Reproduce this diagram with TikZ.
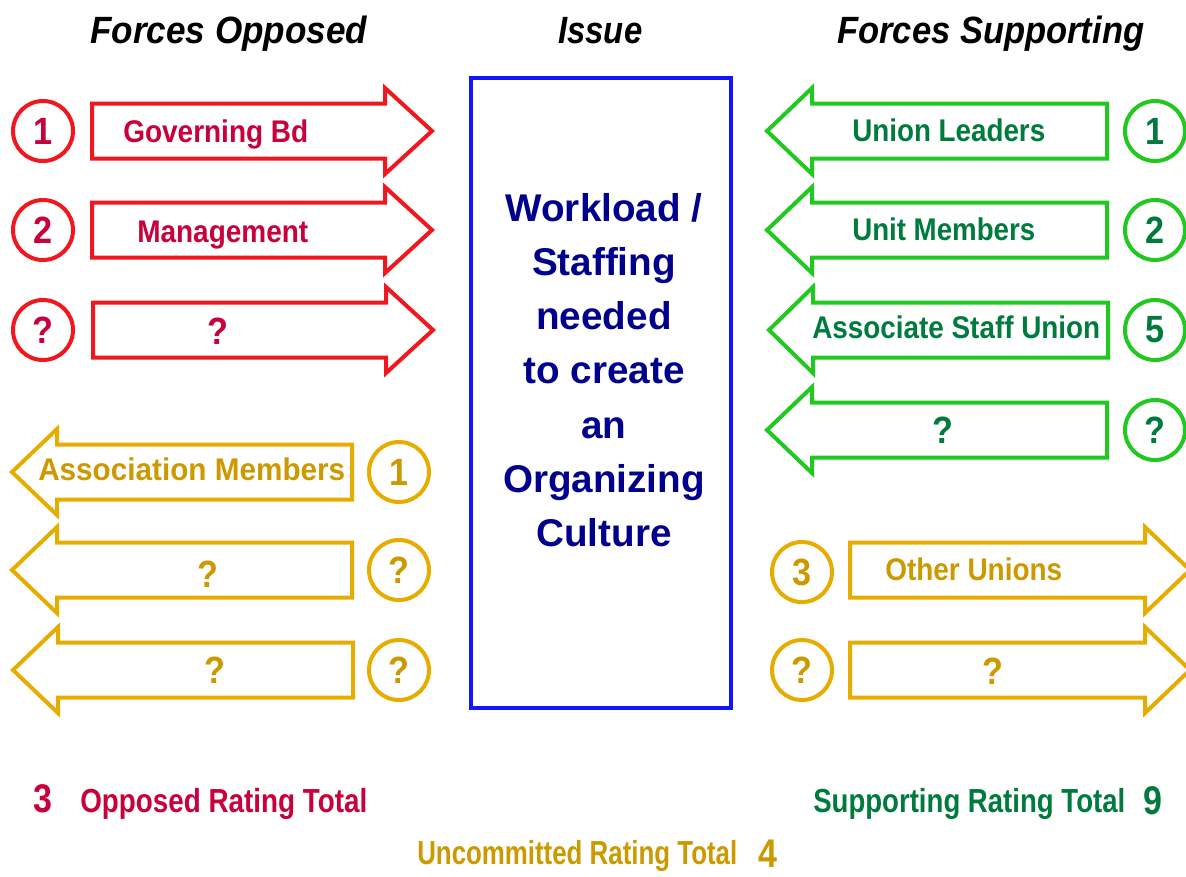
\documentclass[tikz,border=0pt]{standalone}
\usepackage{fontspec}
\setmainfont{Liberation Sans}
\usepackage{graphicx}

% one drawing unit = one pixel of the layout grid
\newdimen\pxu \pxu=0.75pt
% set a text to a given width (in grid pixels), keeping its height
\newcommand\fitw[2]{\resizebox{#1\pxu}{\height}{#2}}
\newcommand\nar[1]{\scalebox{0.9}[1]{#1}}
% block arrow: style, far end x, head base x, tip x, centre y
\newcommand\forceshape[5]{%
  \draw[#1] (#2,#5-27.5) -- (#3,#5-27.5) -- (#3,#5-43) -- (#4,#5)
    -- (#3,#5+43) -- (#3,#5+27.5) -- (#2,#5+27.5) -- cycle;}

\definecolor{oppline}{RGB}{240,24,30}
\definecolor{opptext}{RGB}{200,0,60}
\definecolor{supline}{RGB}{32,200,32}
\definecolor{suptext}{RGB}{0,122,61}
\definecolor{uncline}{RGB}{230,172,0}
\definecolor{unctext}{RGB}{204,153,0}
\definecolor{issueline}{RGB}{20,20,255}
\definecolor{issuetext}{RGB}{0,0,140}

\tikzset{
  opp/.style={draw=oppline, line width=3pt, line join=miter},
  sup/.style={draw=supline, line width=3pt, line join=miter},
  unc/.style={draw=uncline, line width=3pt, line join=miter},
  ring/.style={circle, line width=3pt, minimum size=45pt, inner sep=0pt,
    font=\fontsize{28.5}{28.5}\selectfont\bfseries},
  lab/.style={inner sep=0pt, anchor=base west,
    font=\fontsize{23.5}{23.5}\selectfont\bfseries},
  qmark/.style={inner sep=0pt, anchor=base,
    font=\fontsize{28.5}{28.5}\selectfont\bfseries},
  head/.style={inner sep=0pt, anchor=base west,
    font=\fontsize{28.5}{28.5}\selectfont\bfseries\itshape},
  total/.style={inner sep=0pt, anchor=base west,
    font=\fontsize{25}{25}\selectfont\bfseries},
  totnum/.style={inner sep=0pt, anchor=base,
    font=\fontsize{30}{30}\selectfont\bfseries},
  issuebox/.style={draw=issueline, line width=3pt, rectangle},
  issueline/.style={inner sep=0pt, anchor=base, text=issuetext,
    font=\fontsize{29}{29}\selectfont\bfseries},
}

\begin{document}
\begin{tikzpicture}[x=0.75pt,y=-0.75pt]
\useasboundingbox (0,0) rectangle (1186,876);
\clip (0,0) rectangle (1186,876);

% column headings
\node[head] (hopp) at (90,43) {\fitw{277}{Forces Opposed}};
\node[head] (hiss) at (558,43) {\fitw{84}{Issue}};
\node[head] (hsup) at (837,43) {\fitw{307}{Forces Supporting}};

% the issue
\draw[issuebox] (471,78) rectangle (731,708);
\foreach \t [count=\i from 0] in {Workload /,Staffing,needed,to create,an,Organizing,Culture}
  \node[issueline] (issue\i) at (604,221+54.3*\i) {\t};

% forces opposed
\forceshape{opp}{92}{385}{432}{131}
\forceshape{opp}{92}{385}{432}{230}
\forceshape{opp}{93}{386}{433}{330}
\node[ring, draw=oppline, text=opptext] (o1) at (43,131) {\nar{1}};
\node[ring, draw=oppline, text=opptext] (o2) at (43,230) {\nar{2}};
\node[ring, draw=oppline, text=opptext] (o3) at (43,330) {\nar{?}};
\node[lab, text=opptext] (lo1) at (123,142) {\fitw{185}{Governing Bd}};
\node[lab, text=opptext] (lo2) at (137,242) {\fitw{171}{Management}};
\node[qmark, text=opptext] (lo3) at (218,344) {\nar{?}};

% forces supporting
\forceshape{sup}{1107}{812}{767}{131}
\forceshape{sup}{1107}{812}{767}{230}
\forceshape{sup}{1108}{813}{769}{330}
\forceshape{sup}{1107}{812}{767}{430}
\node[ring, draw=supline, text=suptext] (s1) at (1155,131) {\nar{1}};
\node[ring, draw=supline, text=suptext] (s2) at (1155,230) {\nar{2}};
\node[ring, draw=supline, text=suptext] (s3) at (1155,330) {\nar{5}};
\node[ring, draw=supline, text=suptext] (s4) at (1155,430) {\nar{?}};
\node[lab, text=suptext] (ls1) at (852,141) {\fitw{193}{Union Leaders}};
\node[lab, text=suptext] (ls2) at (852,240) {\fitw{183}{Unit Members}};
\node[lab, text=suptext] (ls3) at (812,338) {\fitw{288}{Associate Staff Union}};
\node[qmark, text=suptext] (ls4) at (943,443) {\nar{?}};

% uncommitted, leaning towards opposed
\forceshape{unc}{352}{57}{12}{472}
\forceshape{unc}{352}{57}{12}{570}
\forceshape{unc}{353}{58}{13}{670}
\node[ring, draw=uncline, text=unctext] (u1) at (399,472) {\nar{1}};
\node[ring, draw=uncline, text=unctext] (u2) at (399,570) {\nar{?}};
\node[ring, draw=uncline, text=unctext] (u3) at (399,670) {\nar{?}};
\node[lab, text=unctext] (lu1) at (38,480) {\fitw{307}{Association Members}};
\node[qmark, text=unctext] (lu2) at (208,587) {\nar{?}};
\node[qmark, text=unctext] (lu3) at (215,683) {\nar{?}};

% uncommitted, leaning towards supporting
\forceshape{unc}{850}{1145}{1190}{570}
\forceshape{unc}{850}{1145}{1190}{670}
\node[ring, draw=uncline, text=unctext] (u4) at (802,572) {\nar{3}};
\node[ring, draw=uncline, text=unctext] (u5) at (802,670) {\nar{?}};
\node[lab, text=unctext] (lu4) at (885,580) {\fitw{177}{Other Unions}};
\node[qmark, text=unctext] (lu5) at (993,684) {\nar{?}};

% rating totals
\node[totnum, text=opptext] (topp) at (43,812) {\scalebox{0.85}[1]{3}};
\node[total, text=opptext] (lopp) at (80,812) {\fitw{287}{Opposed Rating Total}};
\node[total, text=suptext] (lsup) at (813,812) {\fitw{312}{Supporting Rating Total}};
\node[totnum, text=suptext] (tsup) at (1153,814) {\scalebox{0.85}[1]{9}};
\node[total, text=unctext] (lunc) at (417,864) {\fitw{320}{Uncommitted Rating Total}};
\node[totnum, text=unctext] (tunc) at (768,867) {\scalebox{0.85}[1]{4}};
\end{tikzpicture}
\end{document}
